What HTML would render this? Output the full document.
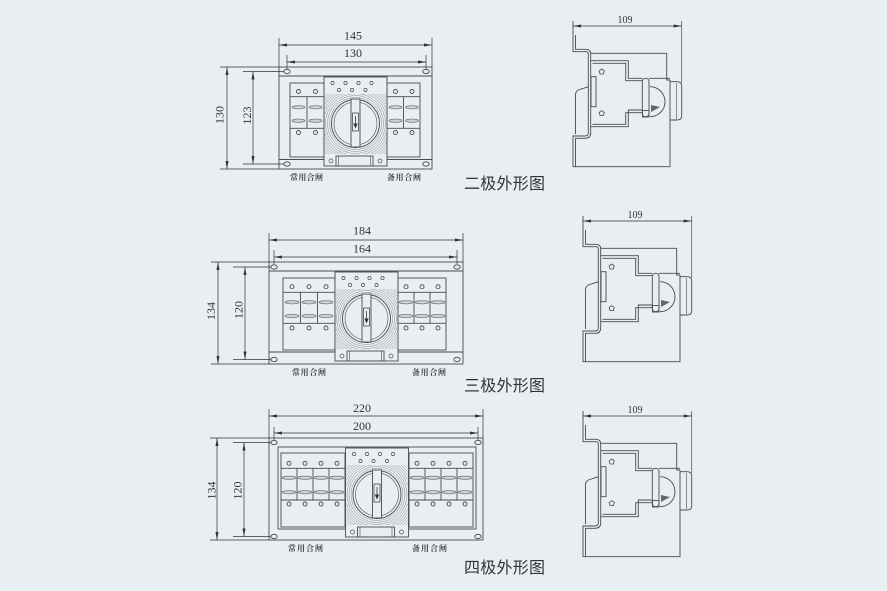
<!DOCTYPE html>
<html><head><meta charset="utf-8"><style>
html,body{margin:0;padding:0;background:#e8eef2;}
svg{display:block;}
.d{font-family:"Liberation Serif",serif;font-size:12px;fill:#333;}
.s{font-family:"Liberation Serif",serif;font-size:10px;fill:#333;}
.l{font-family:"Liberation Serif","Noto Serif CJK SC",serif;font-size:8px;font-weight:bold;fill:#444;}
.t{font-family:"Liberation Sans","Noto Sans CJK SC",sans-serif;font-size:16px;fill:#333;}
</style></head><body>
<svg width="887" height="591" viewBox="0 0 887 591" xmlns="http://www.w3.org/2000/svg">
<defs>
<marker id="a" viewBox="0 0 8 3" refX="8" refY="1.5" markerWidth="8" markerHeight="3" markerUnits="userSpaceOnUse" orient="auto-start-reverse"><path d="M0,0 L8,1.5 L0,3z" fill="#333"/></marker>
<clipPath id="hc"><rect x="1" y="17" width="61" height="60"/></clipPath>
<g id="cb">
 <rect x="0" y="0" width="63" height="89" fill="#e8eef2" stroke="#4a4a4a" stroke-width="0.9"/>
 <g clip-path="url(#hc)" fill="none" stroke="#8a8a8a" stroke-width="0.5">
  <circle cx="31.5" cy="46.5" r="26"/><circle cx="31.5" cy="46.5" r="28"/><circle cx="31.5" cy="46.5" r="30"/><circle cx="31.5" cy="46.5" r="32"/><circle cx="31.5" cy="46.5" r="34"/><circle cx="31.5" cy="46.5" r="36"/><circle cx="31.5" cy="46.5" r="38"/><circle cx="31.5" cy="46.5" r="40"/><circle cx="31.5" cy="46.5" r="42"/><circle cx="31.5" cy="46.5" r="44"/><circle cx="31.5" cy="46.5" r="46"/>
 </g>
 <circle cx="31.5" cy="46.5" r="24" fill="#e8eef2" stroke="#4a4a4a" stroke-width="0.9"/>
 <circle cx="31.5" cy="46.5" r="21.5" fill="none" stroke="#4a4a4a" stroke-width="0.6"/>
 <rect x="27" y="22" width="9" height="48" fill="#e8eef2" stroke="#4a4a4a" stroke-width="0.9"/>
 <rect x="28.5" y="36" width="6" height="18" fill="none" stroke="#4a4a4a" stroke-width="0.8"/>
 <line x1="31.5" y1="39" x2="31.5" y2="47" stroke="#333" stroke-width="0.8"/>
 <path d="M29.3,46.5 L33.7,46.5 L31.5,51.5z" fill="#333"/>
 <g fill="none" stroke="#4a4a4a" stroke-width="0.7">
  <circle cx="8.5" cy="6" r="1.6"/><circle cx="21.5" cy="6" r="1.6"/><circle cx="34.5" cy="6" r="1.6"/><circle cx="47.5" cy="6" r="1.6"/>
  <circle cx="15" cy="13" r="1.6"/><circle cx="28" cy="13" r="1.6"/><circle cx="41.5" cy="13" r="1.6"/>
  <circle cx="7" cy="84" r="2"/><circle cx="56" cy="84" r="2"/>
 </g>
 <rect x="12" y="79" width="37" height="10" fill="none" stroke="#4a4a4a" stroke-width="0.9"/>
 <line x1="14.5" y1="79" x2="14.5" y2="89" stroke="#4a4a4a" stroke-width="0.6"/>
 <line x1="46.5" y1="79" x2="46.5" y2="89" stroke="#4a4a4a" stroke-width="0.6"/>
</g>
<g id="sv" fill="none" stroke="#4a4a4a" stroke-width="0.9">
 <line x1="0" y1="0" x2="108.7" y2="0" stroke="#333" stroke-width="0.7" marker-start="url(#a)" marker-end="url(#a)"/>
 <path d="M0,-5 V25.7 H13 Q15.3,25.7 15.3,28 V107 Q15.3,110 12,110 H0 V140.7 H97 V54"/>
 <path d="M2.5,9 V23.3 H13 Q17.7,23.3 17.7,28 V107 Q17.7,112.3 12,112.3 H2.5 V140.7"/>
 <path d="M17.7,27.3 H93.7 V54 H97"/>
 <path d="M17.7,34.7 H55.3 V52.3 H69.3"/>
 <path d="M76,52.3 H97"/>
 <path d="M69.3,84 H55.3 V100.7 H17.7"/>
 <path d="M19.5,37.3 H52.7 V54.7 H69.3"/>
 <path d="M69.3,86.7 H52.7 V98.3 H19.5"/>
 <rect x="18" y="50.7" width="5" height="30"/>
 <path d="M15.3,60.7 L5.3,64 Q2.5,65.5 2.5,69 V108"/>
 <path d="M28.7,43 L31.3,44.9 L30.3,48 L27.1,48 L26.1,44.9z" stroke-width="0.8"/>
 <path d="M28.7,84.6 L31.3,86.5 L30.3,89.6 L27.1,89.6 L26.1,86.5z" stroke-width="0.8"/>
 <rect x="69.3" y="52.3" width="6.7" height="38.4" rx="3"/>
 <path d="M77,60.7 A15,15 0 0 1 77,90.7"/>
 <rect x="69.5" y="84.5" width="6.5" height="6.5"/>
 <path d="M78,79 L87,81 L78,86z" fill="#666" stroke="none"/>
 <path d="M97,55.7 H104 Q108.7,55.7 108.7,60 V90 Q108.7,94 104,94 H97"/>
 <line x1="103.7" y1="57" x2="103.7" y2="93" stroke-width="0.6"/>
 <line x1="108.7" y1="-5" x2="108.7" y2="57" stroke-width="0.7"/>
 <text x="52" y="-3" text-anchor="middle" class="s" stroke="none">109</text>
</g>
</defs>

<!-- ============ TWO POLE ============ -->
<g fill="none" stroke="#4a4a4a" stroke-width="0.9">
 <rect x="279" y="67" width="153" height="102"/>
 <line x1="279" y1="76" x2="432" y2="76"/>
 <line x1="279" y1="159.5" x2="432" y2="159.5"/>
 <ellipse cx="287" cy="71.5" rx="3.2" ry="2.2"/><ellipse cx="426" cy="71.5" rx="3.2" ry="2.2"/>
 <ellipse cx="287" cy="164" rx="3.2" ry="2.2"/><ellipse cx="426" cy="164" rx="3.2" ry="2.2"/>
 <!-- left breaker -->
 <rect x="290" y="83" width="34" height="74"/>
 <line x1="290" y1="96.7" x2="324" y2="96.7"/><line x1="290" y1="128.3" x2="324" y2="128.3"/>
 <line x1="307" y1="96.7" x2="307" y2="128.3"/>
 <circle cx="298.5" cy="91.5" r="2"/><circle cx="315.5" cy="91.5" r="2"/>
 <circle cx="298.5" cy="132.5" r="2"/><circle cx="315.5" cy="132.5" r="2"/>
 <!-- right breaker -->
 <rect x="387" y="83" width="33" height="74"/>
 <line x1="387" y1="96.7" x2="420" y2="96.7"/><line x1="387" y1="128.3" x2="420" y2="128.3"/>
 <line x1="403.5" y1="96.7" x2="403.5" y2="128.3"/>
 <circle cx="395.5" cy="91.5" r="2"/><circle cx="412" cy="91.5" r="2"/>
 <circle cx="395.5" cy="132.5" r="2"/><circle cx="412" cy="132.5" r="2"/>
</g>
<g fill="#cdd2d6" stroke="#666" stroke-width="0.6">
 <ellipse cx="298.5" cy="107.3" rx="6.5" ry="1.6"/><ellipse cx="315.5" cy="107.3" rx="6.5" ry="1.6"/>
 <ellipse cx="298.5" cy="120.7" rx="6.5" ry="1.6"/><ellipse cx="315.5" cy="120.7" rx="6.5" ry="1.6"/>
 <ellipse cx="395.5" cy="107.3" rx="6.5" ry="1.6"/><ellipse cx="412" cy="107.3" rx="6.5" ry="1.6"/>
 <ellipse cx="395.5" cy="120.7" rx="6.5" ry="1.6"/><ellipse cx="412" cy="120.7" rx="6.5" ry="1.6"/>
</g>
<use href="#cb" x="324" y="77"/>
<g stroke="#333" stroke-width="0.7" fill="none">
 <line x1="279" y1="45" x2="432" y2="45" marker-start="url(#a)" marker-end="url(#a)"/>
 <line x1="279" y1="38" x2="279" y2="67"/><line x1="432" y1="38" x2="432" y2="67"/>
 <line x1="287" y1="62" x2="426" y2="62" marker-start="url(#a)" marker-end="url(#a)"/>
 <line x1="287" y1="55" x2="287" y2="69"/><line x1="426" y1="55" x2="426" y2="69"/>
 <line x1="227" y1="67" x2="227" y2="169" marker-start="url(#a)" marker-end="url(#a)"/>
 <line x1="220" y1="67" x2="279" y2="67"/><line x1="220" y1="169" x2="279" y2="169"/>
 <line x1="253" y1="71.5" x2="253" y2="164" marker-start="url(#a)" marker-end="url(#a)"/>
 <line x1="243" y1="71.5" x2="284" y2="71.5"/><line x1="243" y1="164" x2="284" y2="164"/>
</g>
<text x="353" y="39.5" text-anchor="middle" class="d">145</text>
<text x="353" y="57" text-anchor="middle" class="d">130</text>
<text transform="translate(219.5,115) rotate(-90)" text-anchor="middle" dy="4" class="d">130</text>
<text transform="translate(247,115.5) rotate(-90)" text-anchor="middle" dy="4" class="d">123</text>
<text x="290" y="180" class="l" textLength="33">常用合闸</text>
<text x="387" y="180" class="l" textLength="34">备用合闸</text>
<text x="464" y="189" class="t" textLength="81">二极外形图</text>
<use href="#sv" x="573" y="26"/>

<!-- ============ THREE POLE ============ -->
<g fill="none" stroke="#4a4a4a" stroke-width="0.9">
 <rect x="269" y="262" width="194" height="102"/>
 <line x1="269" y1="271" x2="463" y2="271"/>
 <line x1="269" y1="352" x2="463" y2="352"/>
 <ellipse cx="274" cy="267" rx="3.2" ry="2.2"/><ellipse cx="457" cy="267" rx="3.2" ry="2.2"/>
 <ellipse cx="274" cy="359.5" rx="3.2" ry="2.2"/><ellipse cx="457" cy="359.5" rx="3.2" ry="2.2"/>
 <rect x="283" y="278" width="52" height="72"/>
 <line x1="283" y1="292.3" x2="335" y2="292.3"/><line x1="283" y1="323.3" x2="335" y2="323.3"/>
 <line x1="300.5" y1="292.3" x2="300.5" y2="323.3"/><line x1="317.5" y1="292.3" x2="317.5" y2="323.3"/>
 <circle cx="292" cy="286.7" r="2"/><circle cx="309" cy="286.7" r="2"/><circle cx="326" cy="286.7" r="2"/>
 <circle cx="292" cy="328" r="2"/><circle cx="309" cy="328" r="2"/><circle cx="326" cy="328" r="2"/>
 <rect x="398" y="278" width="48" height="72"/>
 <line x1="398" y1="292.3" x2="446" y2="292.3"/><line x1="398" y1="323.3" x2="446" y2="323.3"/>
 <line x1="414" y1="292.3" x2="414" y2="323.3"/><line x1="430" y1="292.3" x2="430" y2="323.3"/>
 <circle cx="406" cy="286.7" r="2"/><circle cx="422" cy="286.7" r="2"/><circle cx="438" cy="286.7" r="2"/>
 <circle cx="406" cy="328" r="2"/><circle cx="422" cy="328" r="2"/><circle cx="438" cy="328" r="2"/>
</g>
<g fill="#cdd2d6" stroke="#666" stroke-width="0.6">
 <ellipse cx="292" cy="302.3" rx="7" ry="1.6"/><ellipse cx="309" cy="302.3" rx="7" ry="1.6"/><ellipse cx="326" cy="302.3" rx="7" ry="1.6"/>
 <ellipse cx="292" cy="316" rx="7" ry="1.6"/><ellipse cx="309" cy="316" rx="7" ry="1.6"/><ellipse cx="326" cy="316" rx="7" ry="1.6"/>
 <ellipse cx="406" cy="302.3" rx="7" ry="1.6"/><ellipse cx="422" cy="302.3" rx="7" ry="1.6"/><ellipse cx="438" cy="302.3" rx="7" ry="1.6"/>
 <ellipse cx="406" cy="316" rx="7" ry="1.6"/><ellipse cx="422" cy="316" rx="7" ry="1.6"/><ellipse cx="438" cy="316" rx="7" ry="1.6"/>
</g>
<use href="#cb" x="335" y="272"/>
<g stroke="#333" stroke-width="0.7" fill="none">
 <line x1="269" y1="240" x2="463" y2="240" marker-start="url(#a)" marker-end="url(#a)"/>
 <line x1="269" y1="233" x2="269" y2="262"/><line x1="463" y1="233" x2="463" y2="262"/>
 <line x1="274" y1="257" x2="457" y2="257" marker-start="url(#a)" marker-end="url(#a)"/>
 <line x1="274" y1="250" x2="274" y2="264"/><line x1="457" y1="250" x2="457" y2="264"/>
 <line x1="218" y1="262" x2="218" y2="364" marker-start="url(#a)" marker-end="url(#a)"/>
 <line x1="211" y1="262" x2="269" y2="262"/><line x1="211" y1="364" x2="269" y2="364"/>
 <line x1="245" y1="267" x2="245" y2="359.5" marker-start="url(#a)" marker-end="url(#a)"/>
 <line x1="233" y1="267" x2="271" y2="267"/><line x1="233" y1="359.5" x2="271" y2="359.5"/>
</g>
<text x="362" y="234.5" text-anchor="middle" class="d">184</text>
<text x="362" y="252.5" text-anchor="middle" class="d">164</text>
<text transform="translate(211,311) rotate(-90)" text-anchor="middle" dy="4" class="d">134</text>
<text transform="translate(238.5,310) rotate(-90)" text-anchor="middle" dy="4" class="d">120</text>
<text x="292" y="375" class="l" textLength="34">常用合闸</text>
<text x="412" y="375" class="l" textLength="34">备用合闸</text>
<text x="464" y="391" class="t" textLength="81">三极外形图</text>
<use href="#sv" x="583" y="221"/>

<!-- ============ FOUR POLE ============ -->
<g fill="none" stroke="#4a4a4a" stroke-width="0.9">
 <rect x="269" y="438" width="214" height="102"/>
 <rect x="278" y="447" width="198" height="82"/>
 <ellipse cx="274" cy="442.5" rx="3.2" ry="2.2"/><ellipse cx="478" cy="442.5" rx="3.2" ry="2.2"/>
 <ellipse cx="274" cy="536.5" rx="3.2" ry="2.2"/><ellipse cx="478" cy="536.5" rx="3.2" ry="2.2"/>
 <rect x="281" y="453" width="64" height="74"/>
 <line x1="281" y1="468.3" x2="345" y2="468.3"/><line x1="281" y1="500" x2="345" y2="500"/>
 <line x1="297" y1="468.3" x2="297" y2="500"/><line x1="313" y1="468.3" x2="313" y2="500"/><line x1="329" y1="468.3" x2="329" y2="500"/>
 <circle cx="289" cy="463.3" r="2"/><circle cx="305" cy="463.3" r="2"/><circle cx="321" cy="463.3" r="2"/><circle cx="337" cy="463.3" r="2"/>
 <circle cx="289" cy="504" r="2"/><circle cx="305" cy="504" r="2"/><circle cx="321" cy="504" r="2"/><circle cx="337" cy="504" r="2"/>
 <rect x="409" y="453" width="64" height="74"/>
 <line x1="409" y1="468.3" x2="473" y2="468.3"/><line x1="409" y1="500" x2="473" y2="500"/>
 <line x1="425" y1="468.3" x2="425" y2="500"/><line x1="441" y1="468.3" x2="441" y2="500"/><line x1="457" y1="468.3" x2="457" y2="500"/>
 <circle cx="417" cy="463.3" r="2"/><circle cx="433" cy="463.3" r="2"/><circle cx="449" cy="463.3" r="2"/><circle cx="465" cy="463.3" r="2"/>
 <circle cx="417" cy="504" r="2"/><circle cx="433" cy="504" r="2"/><circle cx="449" cy="504" r="2"/><circle cx="465" cy="504" r="2"/>
</g>
<g fill="#cdd2d6" stroke="#666" stroke-width="0.6">
 <ellipse cx="289" cy="477.7" rx="7" ry="1.6"/><ellipse cx="305" cy="477.7" rx="7" ry="1.6"/><ellipse cx="321" cy="477.7" rx="7" ry="1.6"/><ellipse cx="337" cy="477.7" rx="7" ry="1.6"/>
 <ellipse cx="289" cy="492.3" rx="7" ry="1.6"/><ellipse cx="305" cy="492.3" rx="7" ry="1.6"/><ellipse cx="321" cy="492.3" rx="7" ry="1.6"/><ellipse cx="337" cy="492.3" rx="7" ry="1.6"/>
 <ellipse cx="417" cy="477.7" rx="7" ry="1.6"/><ellipse cx="433" cy="477.7" rx="7" ry="1.6"/><ellipse cx="449" cy="477.7" rx="7" ry="1.6"/><ellipse cx="465" cy="477.7" rx="7" ry="1.6"/>
 <ellipse cx="417" cy="492.3" rx="7" ry="1.6"/><ellipse cx="433" cy="492.3" rx="7" ry="1.6"/><ellipse cx="449" cy="492.3" rx="7" ry="1.6"/><ellipse cx="465" cy="492.3" rx="7" ry="1.6"/>
</g>
<use href="#cb" x="345.5" y="448"/>
<g stroke="#333" stroke-width="0.7" fill="none">
 <line x1="269" y1="416" x2="483" y2="416" marker-start="url(#a)" marker-end="url(#a)"/>
 <line x1="269" y1="409" x2="269" y2="438"/><line x1="483" y1="409" x2="483" y2="438"/>
 <line x1="274" y1="433" x2="478" y2="433" marker-start="url(#a)" marker-end="url(#a)"/>
 <line x1="274" y1="427" x2="274" y2="440"/><line x1="478" y1="427" x2="478" y2="440"/>
 <line x1="217" y1="438" x2="217" y2="540" marker-start="url(#a)" marker-end="url(#a)"/>
 <line x1="210" y1="438" x2="269" y2="438"/><line x1="210" y1="540" x2="269" y2="540"/>
 <line x1="244" y1="442.5" x2="244" y2="536.5" marker-start="url(#a)" marker-end="url(#a)"/>
 <line x1="233" y1="442.5" x2="271" y2="442.5"/><line x1="233" y1="536.5" x2="271" y2="536.5"/>
</g>
<text x="362" y="412" text-anchor="middle" class="d">220</text>
<text x="362" y="430" text-anchor="middle" class="d">200</text>
<text transform="translate(211.5,490.5) rotate(-90)" text-anchor="middle" dy="4" class="d">134</text>
<text transform="translate(237.5,490.5) rotate(-90)" text-anchor="middle" dy="4" class="d">120</text>
<text x="288" y="551" class="l" textLength="35">常用合闸</text>
<text x="412" y="551" class="l" textLength="35">备用合闸</text>
<text x="464" y="573" class="t" textLength="81">四极外形图</text>
<use href="#sv" x="583" y="416"/>
</svg>
</body></html>
